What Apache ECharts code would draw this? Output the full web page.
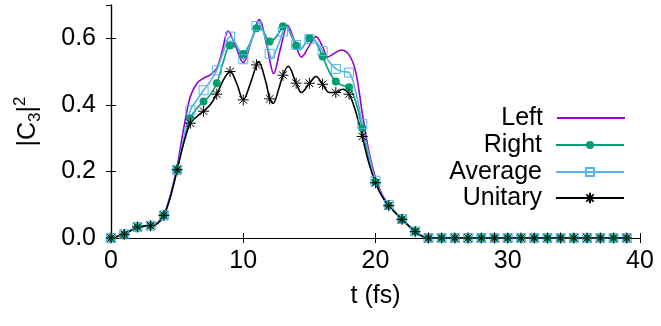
<!DOCTYPE html>
<html>
<head>
<meta charset="utf-8">
<script src="https://cdn.jsdelivr.net/npm/echarts@6/dist/echarts.min.js"></script>
<style>
  html, body { margin: 0; padding: 0; background: #fff; }
  #chart { width: 661px; height: 326px; }
</style>
</head>
<body>
<div id="chart"></div>
<script>
// t in fs
const leftT = [0, 1, 2, 3, 3.5, 4, 4.5, 5, 5.5, 6, 6.5, 7, 7.5, 8, 8.4, 8.85, 9.4, 10, 10.6, 11.2, 11.8, 12.3, 12.8, 13.35, 13.9, 14.4, 15, 15.5, 16, 16.4, 16.9, 17.4, 18, 18.5, 19, 19.5, 20, 20.5, 21, 22, 23, 23.5, 24, 39];
const leftV = [0, 0.011, 0.033, 0.037, 0.045, 0.07, 0.13, 0.215, 0.33, 0.425, 0.465, 0.48, 0.49, 0.51, 0.56, 0.622, 0.578, 0.527, 0.59, 0.656, 0.575, 0.494, 0.567, 0.639, 0.59, 0.544, 0.578, 0.605, 0.575, 0.544, 0.555, 0.565, 0.55, 0.5, 0.375, 0.26, 0.18, 0.13, 0.1, 0.057, 0.02, 0.006, 0, 0];

const rightT = [0, 1, 2, 3, 3.5, 4, 4.5, 5, 5.5, 6, 6.5, 7, 7.5, 8, 8.5, 9, 9.5, 10, 10.5, 11, 11.15, 11.6, 12, 12.5, 13, 13.15, 13.6, 14, 14.3, 14.7, 15, 15.15, 15.6, 16, 16.5, 17, 17.5, 18, 18.5, 19, 19.5, 20, 20.5, 21, 22, 23, 23.5, 24, 25, 26, 27, 28, 29, 30, 31, 32, 33, 34, 35, 36, 37, 38, 39];
const rightV = [0, 0.011, 0.033, 0.037, 0.045, 0.068, 0.125, 0.205, 0.29, 0.36, 0.39, 0.41, 0.43, 0.465, 0.53, 0.578, 0.572, 0.553, 0.585, 0.63, 0.636, 0.615, 0.59, 0.605, 0.636, 0.64, 0.61, 0.578, 0.566, 0.585, 0.6, 0.603, 0.58, 0.545, 0.5, 0.47, 0.458, 0.453, 0.41, 0.33, 0.24, 0.168, 0.125, 0.098, 0.056, 0.02, 0.006, 0, 0, 0, 0, 0, 0, 0, 0, 0, 0, 0, 0, 0, 0, 0, 0];

const avgT = [0, 1, 2, 3, 3.5, 4, 4.5, 5, 5.5, 6, 6.5, 7, 7.5, 8, 8.5, 9, 9.5, 10, 10.5, 11, 11.15, 11.6, 12, 12.15, 12.6, 13, 13.2, 13.7, 14, 14.3, 14.7, 15, 15.1, 15.5, 16, 16.5, 17, 17.5, 18, 18.5, 19, 19.5, 20, 20.5, 21, 22, 23, 23.5, 24, 25, 26, 27, 28, 29, 30, 31, 32, 33, 34, 35, 36, 37, 38, 39];
const avgV = [0, 0.011, 0.033, 0.037, 0.045, 0.068, 0.125, 0.205, 0.3, 0.384, 0.415, 0.444, 0.47, 0.504, 0.56, 0.605, 0.58, 0.537, 0.58, 0.637, 0.647, 0.61, 0.553, 0.54, 0.575, 0.62, 0.633, 0.605, 0.58, 0.569, 0.585, 0.598, 0.602, 0.59, 0.562, 0.53, 0.508, 0.5, 0.497, 0.44, 0.342, 0.25, 0.172, 0.128, 0.099, 0.057, 0.02, 0.006, 0, 0, 0, 0, 0, 0, 0, 0, 0, 0, 0, 0, 0, 0, 0, 0];

const unitT = [0, 1, 2, 3, 3.5, 4, 4.5, 5, 5.5, 6, 6.5, 7, 7.5, 8, 8.5, 9, 9.5, 10, 10.5, 11, 11.15, 11.7, 12, 12.25, 12.7, 13, 13.4, 14, 14.4, 15, 15.5, 16, 16.5, 17, 17.5, 18, 18.5, 19, 19.5, 20, 20.5, 21, 22, 23, 23.5, 24, 25, 26, 27, 28, 29, 30, 31, 32, 33, 34, 35, 36, 37, 38, 39];
const unitV = [0, 0.011, 0.033, 0.037, 0.043, 0.068, 0.125, 0.205, 0.285, 0.345, 0.365, 0.381, 0.4, 0.432, 0.475, 0.5, 0.465, 0.415, 0.46, 0.52, 0.53, 0.47, 0.418, 0.404, 0.45, 0.489, 0.516, 0.465, 0.437, 0.465, 0.485, 0.462, 0.437, 0.437, 0.447, 0.432, 0.38, 0.305, 0.225, 0.166, 0.125, 0.097, 0.056, 0.019, 0.006, 0, 0, 0, 0, 0, 0, 0, 0, 0, 0, 0, 0, 0, 0, 0, 0];

const names = ["Left", "Right", "Average", "Unitary"];
const colors = ["#9400d3", "#009e73", "#56b4e9", "#000000"];

const FONT = "Liberation Sans, Arial, sans-serif";
const FS = 25;
const starPath = "path://M0 5L10 5M5 0L5 10M1.5 1.5L8.5 8.5M8.5 1.5L1.5 8.5";

// markers only on whole-fs samples
function toData(ts, vs, marked) {
  return ts.map((t, i) =>
    marked && Number.isInteger(t) ? [t, vs[i]] : { value: [t, vs[i]], symbol: "none" }
  );
}

function legendFor(name, top, extra) {
  return Object.assign({
    data: [name],
    right: 36,
    top: top,
    orient: "horizontal",
    align: "right",
    itemWidth: 68,
    itemHeight: 10,
    padding: 0,
    selectedMode: false,
    textStyle: { fontFamily: FONT, fontSize: FS, color: "#000", lineHeight: 26, padding: [0, 9, 0, 0] },
  }, extra || {});
}

const chart = echarts.init(document.getElementById("chart"), null, { renderer: "canvas" });

const axisLine = { show: true, lineStyle: { color: "#000", width: 1.2 } };
const tick = { show: true, inside: true, length: 5, lineStyle: { color: "#000", width: 1 } };

chart.setOption({
  animation: false,
  color: colors,
  textStyle: { fontFamily: FONT },
  grid: { left: 111, right: 21, top: 5, bottom: 88 },
  legend: [
    legendFor("Left", 105, { data: [{ name: "Left", icon: "rect" }], itemHeight: 2 }),
    legendFor("Right", 132),
    legendFor("Average", 159),
    legendFor("Unitary", 185, { itemHeight: 13 }),
  ],
  xAxis: [
    {
      type: "value", min: 0, max: 40, interval: 10, position: "bottom",
      axisLine: axisLine, axisTick: tick, splitLine: { show: false },
      axisLabel: { fontSize: FS, color: "#000", margin: 11, fontFamily: FONT },
      name: "t (fs)", nameLocation: "middle", nameGap: 46,
      nameTextStyle: { fontSize: FS, color: "#000", fontFamily: FONT },
    },
    {
      type: "value", min: 0, max: 40, interval: 10, position: "top",
      axisLine: axisLine, axisTick: tick, splitLine: { show: false },
      axisLabel: { show: false },
    },
  ],
  yAxis: [
    {
      type: "value", min: 0, max: 0.7, interval: 0.2, position: "left",
      axisLine: axisLine, axisTick: tick, splitLine: { show: false },
      axisLabel: {
        fontSize: FS, color: "#000", margin: 15, fontFamily: FONT, showMaxLabel: false,
        formatter: (v) => v.toFixed(1),
      },
      name: "{n||C}{s|3}{n||}{p|2}", nameLocation: "middle", nameRotate: 90, nameGap: 67,
      nameTextStyle: {
        color: "#000", fontFamily: FONT,
        rich: {
          n: { fontSize: FS, lineHeight: 32, color: "#000", fontFamily: FONT },
          s: { fontSize: 17, lineHeight: 16, verticalAlign: "bottom", color: "#000", fontFamily: FONT },
          p: { fontSize: 17, lineHeight: 16, verticalAlign: "top", color: "#000", fontFamily: FONT },
        },
      },
    },
    {
      type: "value", min: 0, max: 0.7, interval: 0.2, position: "right",
      axisLine: axisLine, axisTick: tick, splitLine: { show: false },
      axisLabel: { show: false },
    },
  ],
  series: [
    {
      name: "Left", type: "line", smooth: 0.35, symbol: "none",
      lineStyle: { width: 1.6, color: colors[0] },
      data: toData(leftT, leftV, false),
    },
    {
      name: "Right", type: "line", smooth: 0.35, symbol: "circle", symbolSize: 8,
      lineStyle: { width: 1.6, color: colors[1] },
      itemStyle: { color: colors[1], borderWidth: 0 },
      data: toData(rightT, rightV, true),
    },
    {
      name: "Average", type: "line", smooth: 0.35, symbol: "rect", symbolSize: 9,
      lineStyle: { width: 1.6, color: colors[2] },
      itemStyle: { color: "rgba(0,0,0,0)", borderColor: colors[2], borderWidth: 1 },
      data: toData(avgT, avgV, true),
    },
    {
      name: "Unitary", type: "line", smooth: 0.35, symbol: starPath, symbolSize: 11,
      lineStyle: { width: 1.6, color: colors[3] },
      itemStyle: { color: colors[3], borderColor: colors[3], borderWidth: 1 },
      data: toData(unitT, unitV, true),
    },
  ],
});
</script>
</body>
</html>
